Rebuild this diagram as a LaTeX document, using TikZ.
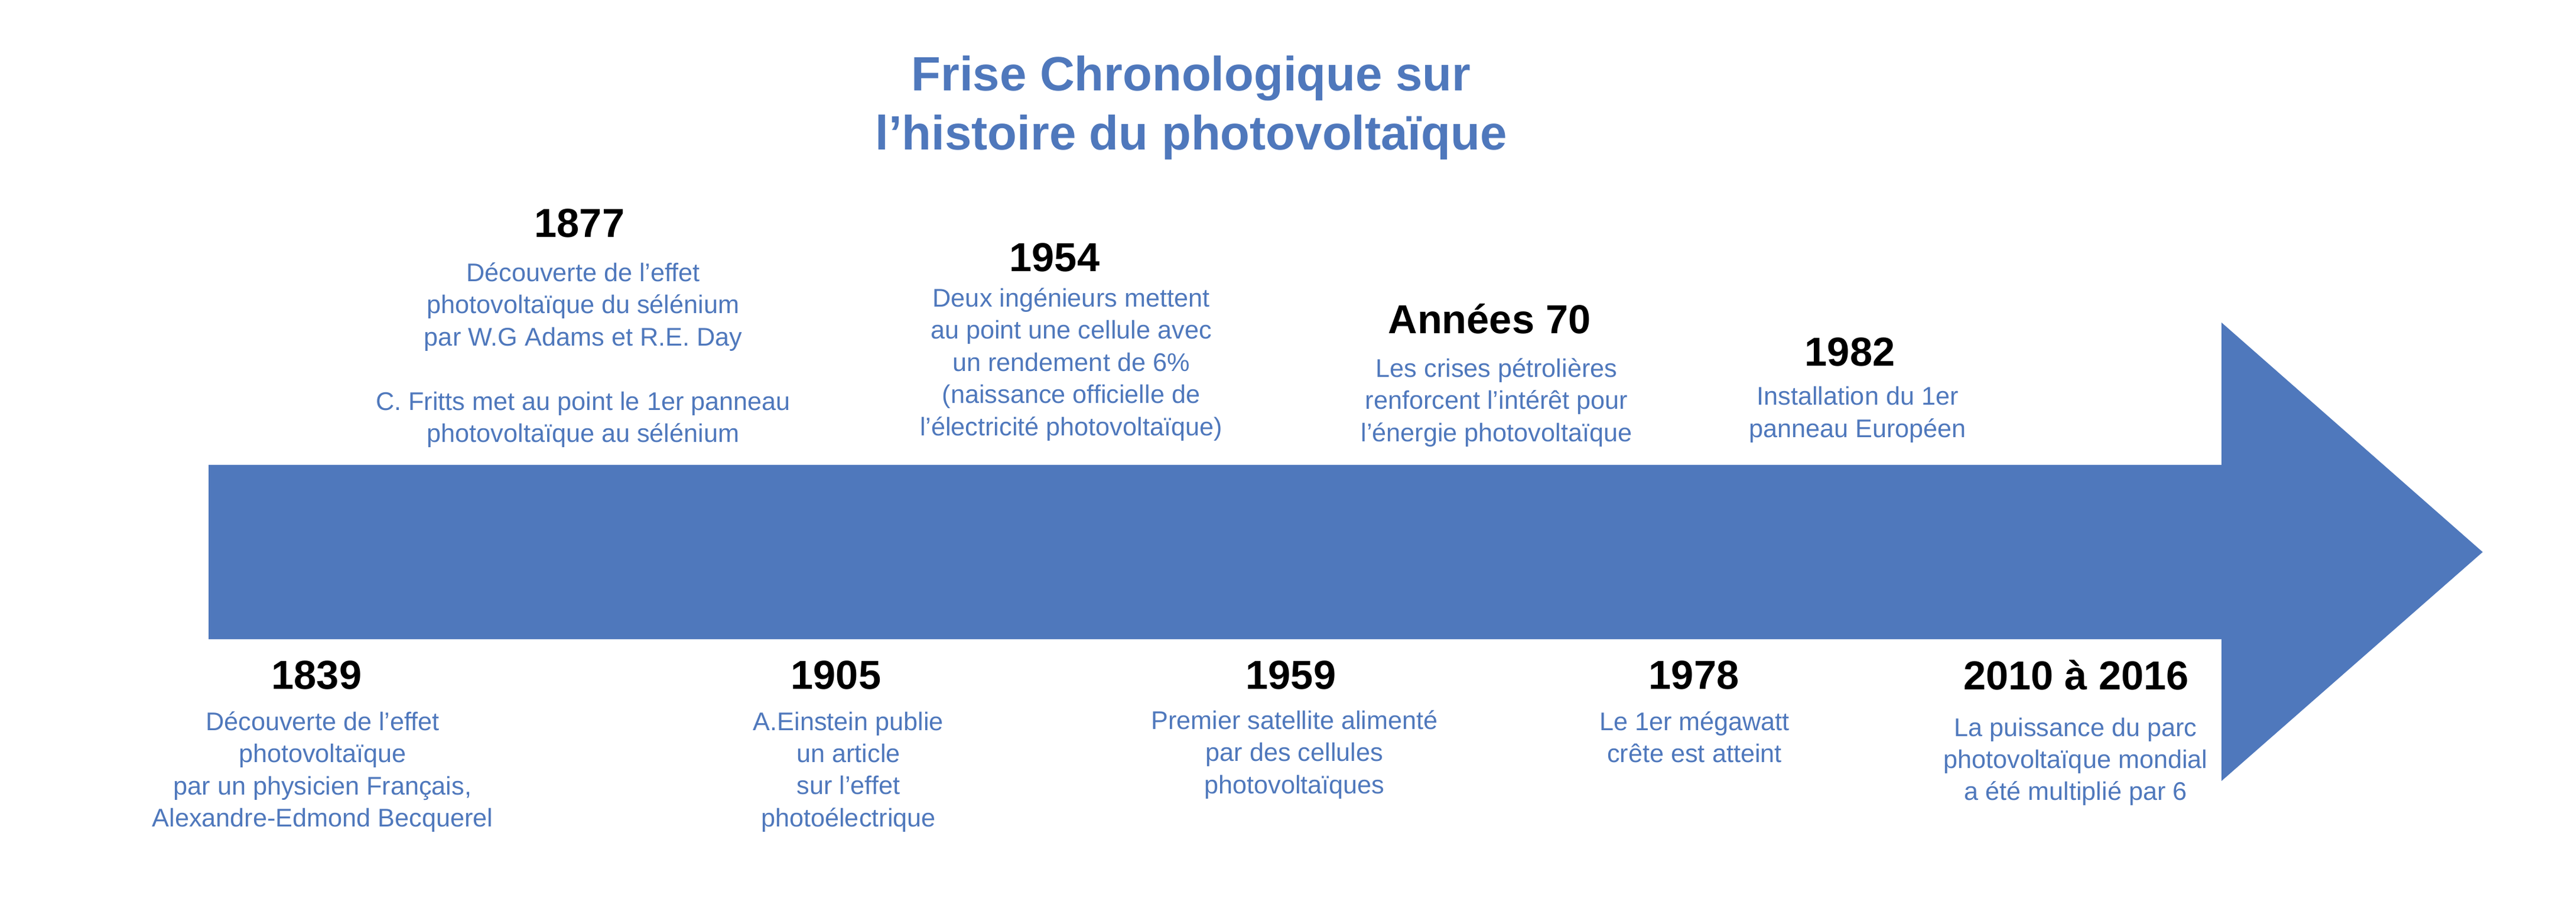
\documentclass[tikz,border=0pt]{standalone}
\usepackage{fontspec}
\setmainfont{Liberation Sans}
\usepackage{tikz}
\definecolor{friseblue}{RGB}{79,120,188}

\begin{document}
\begin{tikzpicture}[
    year/.style={anchor=base, inner sep=0pt, font=\fontsize{19.5}{23}\selectfont\bfseries},
    event/.style={anchor=north, inner sep=0pt, align=center, text=friseblue,
      font=\fontsize{12.3}{15.5}\selectfont}]
    \useasboundingbox (0,0) rectangle (43.6,15.37);
    \fill[friseblue] (3.53,7.50) -- (37.60,7.50) -- (37.60,9.91) -- (42.02,6.025)
      -- (37.60,2.15) -- (37.60,4.55) -- (3.53,4.55) -- cycle;
    \node[anchor=north, inner sep=0pt, align=center, text=friseblue,
      font=\fontsize{23.2}{28.5}\selectfont\bfseries] (title) at (20.16,14.43)
      {Frise Chronologique sur\\l’histoire du photovoltaïque};
    % above the arrow
    \node[year] (y1877) at (9.81,11.35) {1877};
    \node[event] (t1877) at (9.87,10.93) {Découverte de l’effet\\photovoltaïque du sélénium\\par W.G Adams et R.E. Day\\[15.5pt]C. Fritts met au point le 1er panneau\\photovoltaïque au sélénium};
    \node[year] (y1954) at (17.85,10.77) {1954};
    \node[event] (t1954) at (18.13,10.50) {Deux ingénieurs mettent\\au point une cellule avec\\un rendement de 6\%\\(naissance officielle de\\l’électricité photovoltaïque)};
    \node[year] (y1970) at (25.21,9.72) {Années 70};
    \node[event] (t1970) at (25.33,9.31) {Les crises pétrolières\\renforcent l’intérêt pour\\l’énergie photovoltaïque};
    \node[year] (y1982) at (31.31,9.17) {1982};
    \node[event] (t1982) at (31.44,8.83) {Installation du 1er\\panneau Européen};
    % below the arrow
    \node[year] (y1839) at (5.36,3.70) {1839};
    \node[event] (t1839) at (5.46,3.33) {Découverte de l’effet\\photovoltaïque\\par un physicien Français,\\Alexandre-Edmond Becquerel};
    \node[year] (y1905) at (14.15,3.70) {1905};
    \node[event] (t1905) at (14.36,3.33) {A.Einstein publie\\un article\\sur l’effet\\photoélectrique};
    \node[year] (y1959) at (21.85,3.70) {1959};
    \node[event] (t1959) at (21.91,3.35) {Premier satellite alimenté\\par des cellules\\photovoltaïques};
    \node[year] (y1978) at (28.67,3.70) {1978};
    \node[event] (t1978) at (28.68,3.33) {Le 1er mégawatt\\crête est atteint};
    \node[year] (y2010) at (35.14,3.69) {2010 à 2016};
    \node[event] (t2010) at (35.13,3.23) {La puissance du parc\\photovoltaïque mondial\\a été multiplié par 6};
  \end{tikzpicture}
\end{document}
